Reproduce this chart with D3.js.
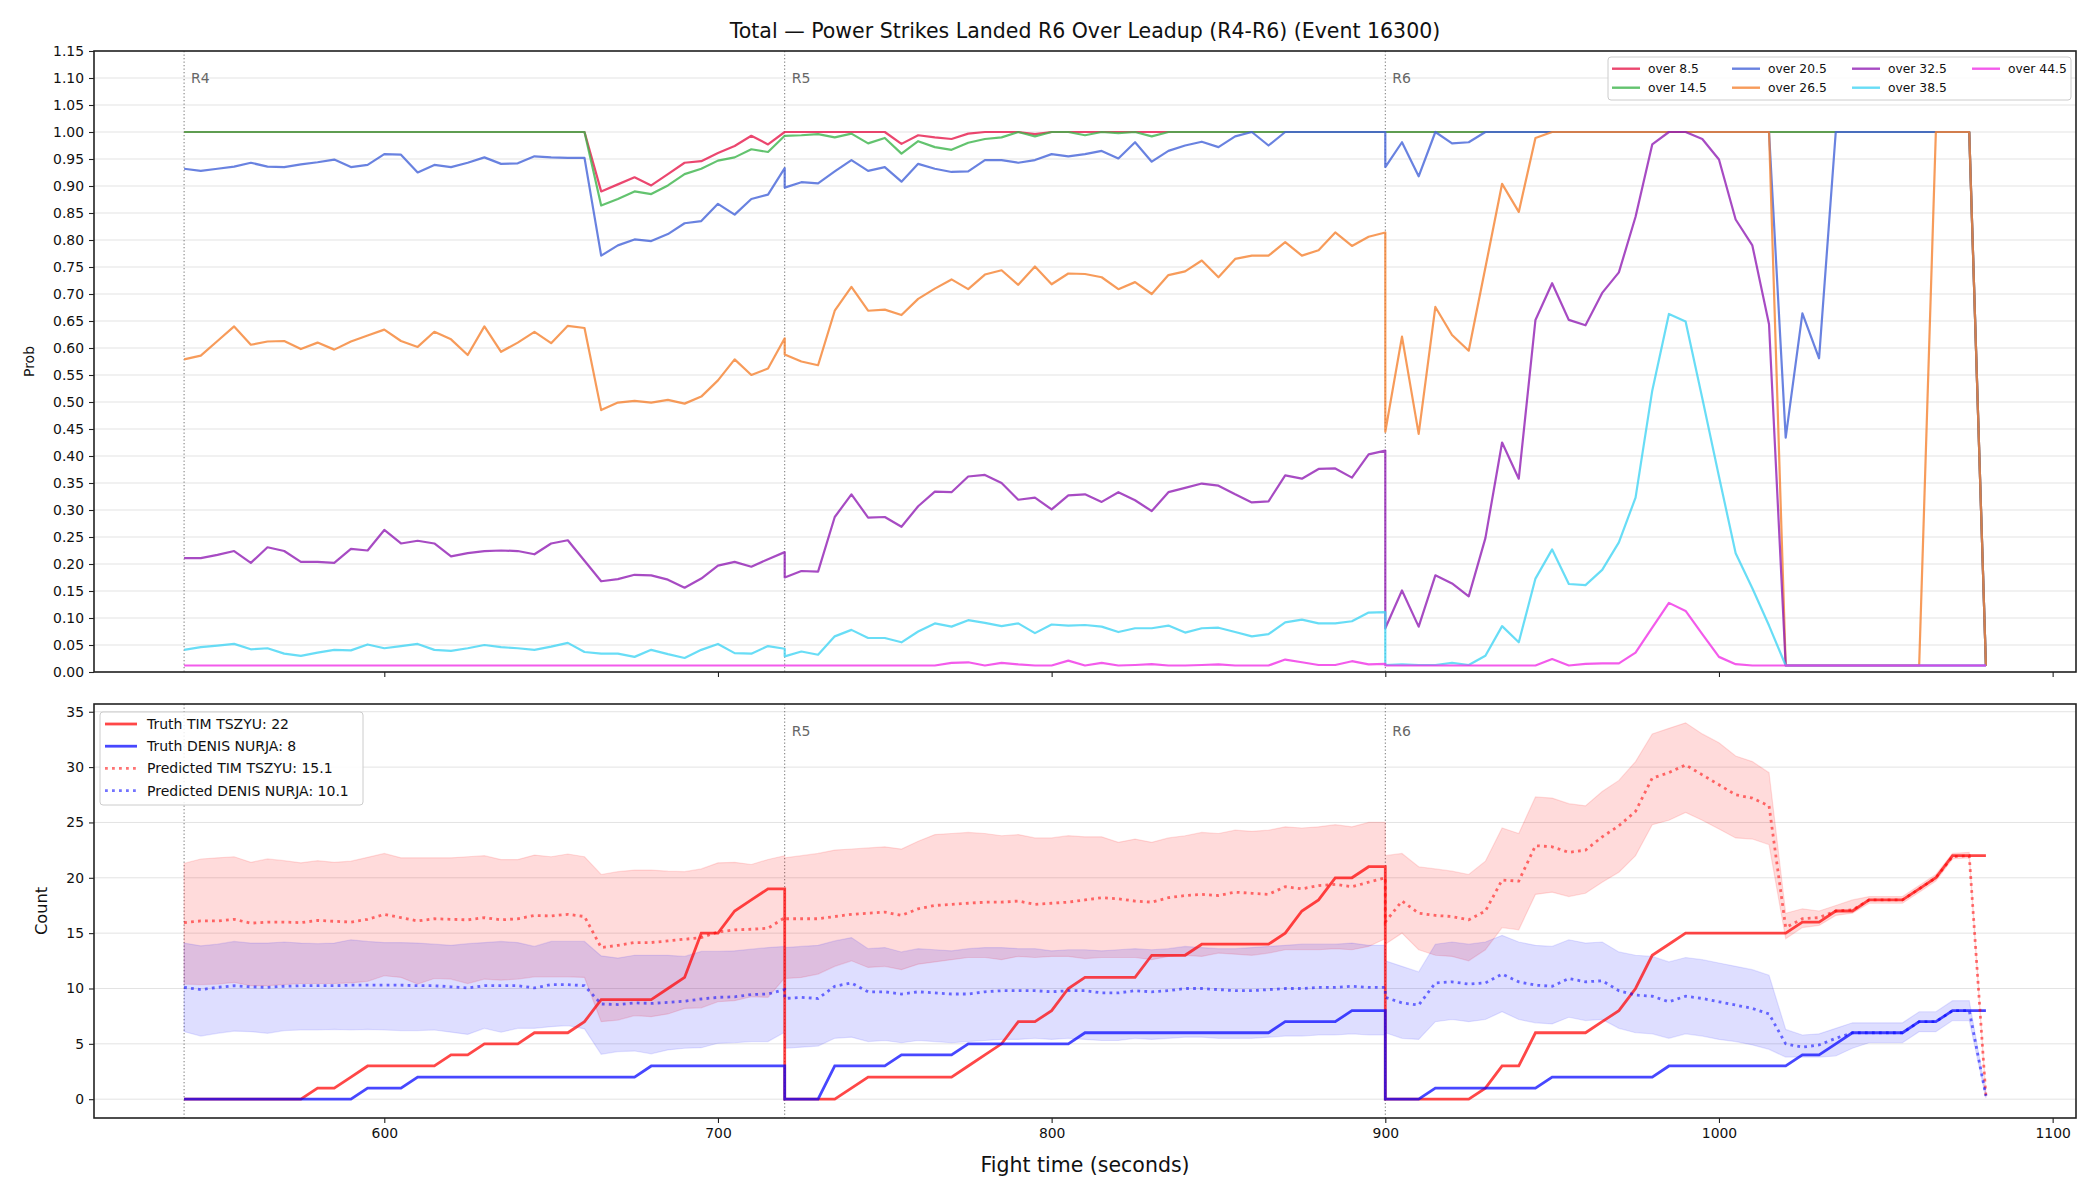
<!DOCTYPE html>
<html>
<head>
<meta charset="utf-8">
<script src="https://cdnjs.cloudflare.com/ajax/libs/d3/7.8.5/d3.min.js"></script>
<style>
body { margin: 0; background: #fff; }
svg text { font-family: "DejaVu Sans", sans-serif; fill: #111; }
</style>
</head>
<body>
<div id="chart"></div>
<script>
// rounds and sample grid (one sample every 5 s, each round has its own 37 samples)
const roundStarts = [540, 720, 900];
const roundNames = ["R4", "R5", "R6"];
const xTicks = [600, 700, 800, 900, 1000, 1100];
const probTicks = d3.range(0, 1.151, 0.05);
const countTicks = [0, 5, 10, 15, 20, 25, 30, 35];

// ---- top panel: P(over line) ----
const probKeys = ["over 8.5", "over 14.5", "over 20.5", "over 26.5", "over 32.5", "over 38.5", "over 44.5"];
const probColors = ["#e6194b", "#3cb44b", "#4363d8", "#f58231", "#911eb4", "#42d4f4", "#f032e6"];

const over85 = [
  // R4
  1,1,1,1,1,1,1,1,1,1,
  1,1,1,1,1,1,1,1,1,1,
  1,1,1,1,1,0.890,0.903,0.916,0.901,0.922,
  0.943,0.946,0.961,0.974,0.993,0.977,1,
  // R5
  1,1,1,1,1,1,1,0.978,0.994,0.990,
  0.987,0.997,1,1,1,0.996,1,1,1,1,
  1,1,1,1,1,1,1,1,1,1,
  1,1,1,1,1,1,1,
  // R6
  1,1,1,1,1,1,1,1,1,1,
  1,1,1,1,1,1,1,1,1,1,
  1,1,1,1,1,1,1,1,1,1,
  1,1,1,1,1,1,0.012];
const over145 = [
  1,1,1,1,1,1,1,1,1,1,
  1,1,1,1,1,1,1,1,1,1,
  1,1,1,1,1,0.864,0.876,0.890,0.885,0.901,
  0.922,0.932,0.947,0.953,0.968,0.963,0.993,
  0.993,0.994,0.996,0.990,0.997,0.979,0.989,0.960,0.983,0.972,
  0.967,0.980,0.987,0.990,1,0.992,1,1,0.994,1,
  0.998,1,0.992,1,1,1,1,1,1,1,
  1,1,1,1,1,1,1,
  1,1,1,1,1,1,1,1,1,1,
  1,1,1,1,1,1,1,1,1,1,
  1,1,1,1,1,1,1,1,1,1,
  1,1,1,1,1,1,0.012];
const over205 = [
  0.932,0.928,0.932,0.936,0.943,0.936,0.935,0.940,0.944,0.949,
  0.935,0.939,0.959,0.958,0.925,0.939,0.935,0.943,0.953,0.941,
  0.942,0.955,0.953,0.952,0.952,0.771,0.790,0.801,0.798,0.811,
  0.831,0.835,0.867,0.847,0.876,0.884,0.933,
  0.897,0.907,0.905,0.927,0.948,0.928,0.935,0.908,0.941,0.932,
  0.926,0.927,0.948,0.948,0.943,0.948,0.959,0.955,0.959,0.965,
  0.951,0.981,0.945,0.965,0.975,0.982,0.972,0.992,1,0.975,
  1,1,1,1,1,1,1,
  0.935,0.981,0.918,1,0.979,0.981,1,1,1,1,
  1,1,1,1,1,1,1,1,1,1,
  1,1,1,1,0.434,0.664,0.581,1,1,1,
  1,1,1,1,1,1,0.012];
const over265 = [
  0.579,0.586,0.613,0.640,0.606,0.612,0.613,0.598,0.610,0.597,
  0.612,0.623,0.634,0.613,0.602,0.630,0.616,0.587,0.640,0.593,
  0.610,0.630,0.609,0.641,0.637,0.485,0.499,0.502,0.499,0.504,
  0.497,0.510,0.540,0.579,0.550,0.562,0.618,
  0.588,0.575,0.568,0.669,0.713,0.669,0.671,0.661,0.691,0.710,
  0.727,0.709,0.736,0.744,0.717,0.751,0.718,0.738,0.737,0.731,
  0.709,0.722,0.700,0.735,0.742,0.762,0.731,0.765,0.771,0.771,
  0.796,0.771,0.781,0.814,0.789,0.806,0.814,
  0.445,0.621,0.441,0.676,0.624,0.595,0.749,0.904,0.852,0.989,
  1,1,1,1,1,1,1,1,1,1,
  1,1,1,1,0.012,0.012,0.012,0.012,0.012,0.012,
  0.012,0.012,0.012,1,1,1,0.012];
const over325 = [
  0.211,0.211,0.217,0.224,0.202,0.231,0.224,0.204,0.204,0.202,
  0.228,0.225,0.263,0.238,0.243,0.238,0.214,0.220,0.224,0.225,
  0.224,0.218,0.238,0.244,0.206,0.168,0.172,0.180,0.179,0.171,
  0.156,0.173,0.197,0.204,0.195,0.209,0.222,
  0.175,0.187,0.186,0.287,0.329,0.286,0.287,0.269,0.307,0.334,
  0.333,0.362,0.365,0.350,0.319,0.323,0.301,0.327,0.329,0.315,
  0.333,0.318,0.298,0.333,0.341,0.349,0.345,0.329,0.314,0.316,
  0.364,0.358,0.376,0.377,0.360,0.403,0.410,
  0.081,0.151,0.084,0.179,0.164,0.140,0.248,0.425,0.358,0.652,
  0.720,0.652,0.642,0.702,0.740,0.843,0.977,1,1,0.987,
  0.949,0.838,0.790,0.644,0.012,0.012,0.012,0.012,0.012,0.012,
  0.012,0.012,0.012,0.012,0.012,0.012,0.012];
const over385 = [
  0.041,0.046,0.049,0.052,0.042,0.044,0.034,0.030,0.036,0.041,
  0.040,0.051,0.044,0.048,0.052,0.041,0.039,0.044,0.050,0.046,
  0.044,0.041,0.047,0.054,0.037,0.034,0.034,0.028,0.041,0.033,
  0.026,0.041,0.052,0.035,0.034,0.048,0.043,
  0.029,0.038,0.032,0.066,0.078,0.063,0.063,0.055,0.075,0.090,
  0.084,0.096,0.091,0.085,0.090,0.072,0.088,0.086,0.087,0.084,
  0.074,0.081,0.081,0.086,0.073,0.081,0.082,0.074,0.066,0.070,
  0.092,0.097,0.090,0.090,0.094,0.110,0.111,
  0.013,0.014,0.013,0.013,0.017,0.013,0.030,0.085,0.055,0.173,
  0.227,0.163,0.161,0.189,0.240,0.323,0.521,0.663,0.649,0.507,
  0.362,0.220,0.155,0.086,0.012,0.012,0.012,0.012,0.012,0.012,
  0.012,0.012,0.012,0.012,0.012,0.012,0.012];
const over445 = [
  0.012,0.012,0.012,0.012,0.012,0.012,0.012,0.012,0.012,0.012,
  0.012,0.012,0.012,0.012,0.012,0.012,0.012,0.012,0.012,0.012,
  0.012,0.012,0.012,0.012,0.012,0.012,0.012,0.012,0.012,0.012,
  0.012,0.012,0.012,0.012,0.012,0.012,0.012,
  0.012,0.012,0.012,0.012,0.012,0.012,0.012,0.012,0.012,0.012,
  0.017,0.018,0.012,0.017,0.014,0.012,0.012,0.021,0.012,0.017,
  0.012,0.013,0.0145,0.012,0.012,0.013,0.014,0.012,0.012,0.012,
  0.023,0.018,0.013,0.013,0.020,0.014,0.015,
  0.012,0.012,0.012,0.012,0.012,0.012,0.012,0.012,0.012,0.012,
  0.024,0.012,0.015,0.016,0.016,0.036,0.082,0.128,0.113,0.070,
  0.028,0.0145,0.012,0.012,0.012,0.012,0.012,0.012,0.012,0.012,
  0.012,0.012,0.012,0.012,0.012,0.012,0.012];
const probValues = [over85, over145, over205, over265, over325, over385, over445];

// ---- bottom panel: counts ----
const truthTim = [
  0,0,0,0,0,0,0,0,1,1, 2,3,3,3,3,3,4,4,5,5, 5,6,6,6,7,9,9,9,9,10, 11,15,15,17,18,19,19,
  0,0,0,0,1,2,2,2,2,2, 2,3,4,5,7,7,8,10,11,11, 11,11,13,13,13,14,14,14,14,14, 15,17,18,20,20,21,21,
  0,0,0,0,0,0,1,3,3,6, 6,6,6,7,8,10,13,14,15,15, 15,15,15,15,15,16,16,17,17,18, 18,18,19,20,22,22,22];
const truthDenis = [
  0,0,0,0,0,0,0,0,0,0, 0,1,1,1,2,2,2,2,2,2, 2,2,2,2,2,2,2,2,3,3, 3,3,3,3,3,3,3,
  0,0,0,3,3,3,3,4,4,4, 4,5,5,5,5,5,5,5,6,6, 6,6,6,6,6,6,6,6,6,6, 7,7,7,7,8,8,8,
  0,0,0,1,1,1,1,1,1,1, 2,2,2,2,2,2,2,3,3,3, 3,3,3,3,3,4,4,5,6,6, 6,6,7,7,8,8,8];
const predTim = [
  15.95,16.1,16.1,16.25,15.9,16.0,16.0,15.95,16.15,16.07, 16.0,16.25,16.7,16.4,16.1,16.3,16.25,16.2,16.4,16.2,
  16.3,16.6,16.55,16.7,16.5,13.7,13.9,14.15,14.15,14.3, 14.45,14.6,15.1,15.3,15.35,15.45,16.4,
  16.3,16.3,16.3,16.5,16.7,16.8,16.9,16.6,17.2,17.5, 17.6,17.7,17.8,17.8,17.9,17.6,17.7,17.8,18.0,18.2,
  18.1,17.9,17.8,18.2,18.4,18.5,18.4,18.7,18.6,18.5, 19.2,19.0,19.3,19.4,19.2,19.6,20.0,
  16.0,17.9,16.8,16.6,16.5,16.2,17.0,19.8,19.7,22.9, 22.8,22.3,22.5,23.7,24.7,26.0,29.0,29.5,30.2,29.3,
  28.4,27.5,27.2,26.5,15.5,16.3,16.4,17.0,17.1,18.0, 18.0,18.0,19.0,20.0,21.9,22.0,0.3];
const timHi = [
  21.3,21.7,21.8,21.9,21.4,21.7,21.55,21.35,21.55,21.4, 21.5,21.85,22.2,21.8,21.8,21.8,21.8,21.9,22.0,21.65,
  21.65,22.05,21.9,22.15,21.9,20.3,20.55,20.7,20.7,20.6, 20.55,20.8,21.35,21.4,21.2,21.65,22.0,
  21.8,22.0,22.2,22.5,22.6,22.7,22.8,22.6,23.3,23.9, 24.0,24.1,24.0,23.8,23.9,23.6,23.6,23.8,23.7,23.7,
  23.2,23.5,23.2,23.6,23.8,24.1,24.0,24.3,24.2,24.3, 24.6,24.5,24.6,24.8,24.6,25.0,25.0,
  22.0,22.2,21.0,20.8,20.6,20.3,21.5,24.5,24.0,27.3, 27.2,26.7,26.5,27.8,28.8,30.5,33.0,33.5,34.0,33.0,
  32.2,31.0,30.5,29.5,16.8,17.2,17.0,17.5,18.0,18.3, 18.3,18.3,19.3,20.3,22.2,22.3,0.5];
const timLo = [
  10.4,10.35,10.4,10.55,10.25,10.25,10.35,10.45,10.45,10.45, 10.5,10.65,11.15,11.0,10.4,10.9,10.85,10.45,10.85,10.75,
  10.85,11.05,11.05,11.05,11.0,7.0,7.15,7.55,7.45,7.7, 8.2,8.25,8.8,8.9,9.25,9.2,10.95,
  10.9,11.0,11.3,12.0,12.5,11.9,12.0,11.7,12.2,12.4, 12.6,12.8,12.8,12.6,12.9,12.8,12.9,12.9,12.7,12.8,
  12.8,12.8,12.6,12.9,13.0,12.9,13.2,13.1,13.0,13.2, 13.5,13.5,13.5,13.6,13.5,13.8,14.5,
  14.0,15.0,13.5,13.0,12.9,12.5,13.5,15.5,15.3,18.5, 18.7,18.3,18.6,19.6,20.5,22.0,24.8,25.2,25.9,25.2,
  24.4,23.6,23.5,23.0,14.5,15.5,15.7,16.6,16.8,17.7, 17.7,17.7,18.7,19.7,21.7,21.8,0.2];
const predDenis = [
  10.1,9.9,10.1,10.25,10.15,10.1,10.2,10.25,10.25,10.25, 10.3,10.3,10.3,10.3,10.25,10.25,10.15,10.05,10.25,10.25,
  10.25,10.05,10.35,10.35,10.25,8.6,8.55,8.7,8.65,8.75, 8.85,9.05,9.2,9.25,9.45,9.5,9.9,
  9.1,9.2,9.1,10.2,10.5,9.7,9.7,9.5,9.7,9.6, 9.5,9.5,9.7,9.8,9.8,9.8,9.7,9.8,9.8,9.6,
  9.6,9.8,9.7,9.8,10.0,10.0,9.9,9.8,9.8,9.9, 10.0,10.0,10.1,10.1,10.2,10.1,10.1,
  9.2,8.7,8.5,10.5,10.6,10.4,10.5,11.3,10.6,10.3, 10.2,10.9,10.6,10.7,9.8,9.4,9.3,8.8,9.3,9.1,
  8.8,8.5,8.2,7.7,5.0,4.7,4.9,5.5,6.0,6.0, 6.0,6.0,7.0,7.0,8.0,8.0,0.3];
const denisHi = [
  14.1,13.85,14.0,14.25,14.1,14.1,14.2,14.1,14.05,14.1, 14.4,14.25,14.15,14.15,14.1,14.0,13.9,14.05,14.15,14.25,
  14.15,13.8,14.25,14.25,14.25,12.95,12.75,13.0,13.0,13.0, 12.9,13.35,13.35,13.4,13.55,13.7,13.8,
  13.7,13.8,13.9,14.3,14.6,13.6,13.7,13.3,13.6,13.5, 13.4,13.6,13.7,13.7,13.6,13.6,13.4,13.5,13.5,13.4,
  13.5,13.6,13.5,13.6,13.8,13.7,13.6,13.6,13.7,13.8, 13.9,14.0,14.0,14.0,14.1,13.9,13.9,
  12.5,12.0,11.5,14.0,14.2,14.0,14.2,14.8,14.2,13.9, 13.8,14.4,14.1,14.2,13.3,13.0,12.9,12.4,12.8,12.6,
  12.3,12.0,11.7,11.2,6.3,5.8,5.9,6.4,6.9,6.9, 6.9,6.9,7.9,7.9,8.9,8.9,0.5];
const denisLo = [
  6.1,5.7,5.95,6.15,6.1,5.95,6.2,6.25,6.25,6.3, 6.25,6.3,6.25,6.2,6.2,6.25,6.05,5.85,6.4,6.05,
  6.4,6.4,6.55,6.65,6.35,4.05,4.3,4.35,4.1,4.45, 4.6,4.65,5.05,5.1,5.2,5.2,6.05,
  4.6,4.7,4.8,5.5,5.6,5.2,5.3,5.1,5.3,5.2, 5.1,5.2,5.3,5.4,5.4,5.5,5.4,5.5,5.4,5.3,
  5.3,5.5,5.4,5.5,5.6,5.6,5.5,5.5,5.5,5.6, 5.7,5.7,5.8,5.8,5.9,5.8,5.8,
  6.0,5.5,5.4,7.0,7.2,7.0,7.2,7.9,7.2,6.9, 6.8,7.4,7.1,7.2,6.4,6.0,5.9,5.5,5.9,5.7,
  5.4,5.2,4.9,4.5,3.8,3.8,3.8,3.9,4.6,5.1, 5.1,5.1,6.1,6.1,7.1,7.1,0.1];

const times = roundStarts.flatMap(function(s) { return d3.range(s, s + 181, 5); });

// layout
const W = 2100, H = 1200;
const left = 94, right = 2076;
const top1 = 51, bot1 = 672;
const top2 = 704, bot2 = 1118;

const svg = d3.select("#chart").append("svg")
  .attr("width", W).attr("height", H);

const x = d3.scaleLinear().domain([513, 1107]).range([left, right]);
const yP = d3.scaleLinear().domain([0, 1.15]).range([bot1, top1]);
const yC = d3.scaleLinear().domain([-1.7, 35.7]).range([bot2, top2]);

// title
svg.append("text")
  .attr("x", (left + right) / 2).attr("y", 38)
  .attr("text-anchor", "middle")
  .attr("font-size", 20.5)
  .text("Total \u2014 Power Strikes Landed R6 Over Leadup (R4-R6) (Event 16300)");

function gridAndRounds(g, y, ticks, yTop, yBot, labelRounds) {
  g.selectAll(".grid").data(ticks).enter().append("line")
    .attr("x1", left).attr("x2", right)
    .attr("y1", function(d) { return y(d); }).attr("y2", function(d) { return y(d); })
    .attr("stroke", "#e3e3e3").attr("stroke-width", 1);
  g.selectAll(".rnd").data(roundStarts).enter().append("line")
    .attr("x1", function(d) { return x(d); }).attr("x2", function(d) { return x(d); })
    .attr("y1", yTop).attr("y2", yBot)
    .attr("stroke", "#777").attr("stroke-width", 1)
    .attr("stroke-dasharray", "1.3,2.2");
  // round labels (R4 in the lower panel sits under the legend, so it is left out)
  g.selectAll(".rlab").data(labelRounds).enter().append("text")
    .attr("x", function(d) { return x(roundStarts[d]) + 7; })
    .attr("y", yTop + 32)
    .attr("font-size", 14)
    .style("fill", "#666")
    .text(function(d) { return roundNames[d]; });
}

// ---------- top panel ----------
const g1 = svg.append("g");
gridAndRounds(g1, yP, probTicks, top1, bot1, [0, 1, 2]);

probValues.forEach(function(vals, si) {
  const line = d3.line()
    .x(function(d, i) { return x(times[i]); })
    .y(function(d) { return yP(d); });
  g1.append("path")
    .datum(vals)
    .attr("fill", "none")
    .attr("stroke", probColors[si])
    .attr("stroke-opacity", 0.8)
    .attr("stroke-width", 2.2)
    .attr("stroke-linejoin", "round")
    .attr("d", line);
});

g1.append("g")
  .attr("transform", "translate(" + left + ",0)")
  .call(d3.axisLeft(yP).tickValues(probTicks).tickFormat(d3.format(".2f")).tickSize(5).tickPadding(5))
  .call(styleAxis);
g1.append("g")
  .attr("transform", "translate(0," + bot1 + ")")
  .call(d3.axisBottom(x).tickValues(xTicks).tickFormat("").tickSize(5))
  .call(styleAxis);

g1.append("rect")
  .attr("x", left).attr("y", top1).attr("width", right - left).attr("height", bot1 - top1)
  .attr("fill", "none").attr("stroke", "#222").attr("stroke-width", 1.6);

g1.append("text")
  .attr("transform", "translate(29," + ((top1 + bot1) / 2) + ") rotate(-90)")
  .attr("text-anchor", "middle").attr("dy", "0.35em")
  .attr("font-size", 14)
  .text("Prob");

// top legend
const leg1 = g1.append("g").attr("transform", "translate(1608,57)");
leg1.append("rect")
  .attr("width", 463).attr("height", 43).attr("rx", 3)
  .attr("fill", "white").attr("fill-opacity", 0.85)
  .attr("stroke", "#ccc");
probKeys.forEach(function(k, i) {
  const col = Math.floor(i / 2), row = i % 2;
  const gx = 4 + col * 120, gy = 11.7 + row * 19;
  leg1.append("line")
    .attr("x1", gx).attr("x2", gx + 28).attr("y1", gy).attr("y2", gy)
    .attr("stroke", probColors[i]).attr("stroke-opacity", 0.8).attr("stroke-width", 2.4);
  leg1.append("text")
    .attr("x", gx + 36).attr("y", gy).attr("dy", "0.35em")
    .attr("font-size", 12.3)
    .text(k);
});

// ---------- bottom panel ----------
const g2 = svg.append("g");
gridAndRounds(g2, yC, countTicks, top2, bot2, [1, 2]);

const bandTim = d3.area()
  .x(function(d, i) { return x(times[i]); })
  .y0(function(d, i) { return yC(timLo[i]); })
  .y1(function(d, i) { return yC(timHi[i]); });
const bandDenis = d3.area()
  .x(function(d, i) { return x(times[i]); })
  .y0(function(d, i) { return yC(denisLo[i]); })
  .y1(function(d, i) { return yC(denisHi[i]); });

g2.append("path").datum(times)
  .attr("fill", "rgba(255,0,0,0.14)")
  .attr("stroke", "rgba(255,0,0,0.12)").attr("stroke-width", 1.2)
  .attr("d", bandTim);
g2.append("path").datum(times)
  .attr("fill", "rgba(0,0,255,0.13)")
  .attr("stroke", "rgba(0,0,255,0.10)").attr("stroke-width", 1.2)
  .attr("d", bandDenis);

const countLine = d3.line()
  .x(function(d, i) { return x(times[i]); })
  .y(function(d) { return yC(d); });

g2.append("path").datum(truthTim)
  .attr("fill", "none").attr("stroke", "red").attr("stroke-opacity", 0.72)
  .attr("stroke-width", 2.8).attr("d", countLine);
g2.append("path").datum(truthDenis)
  .attr("fill", "none").attr("stroke", "blue").attr("stroke-opacity", 0.72)
  .attr("stroke-width", 2.8).attr("d", countLine);
g2.append("path").datum(predTim)
  .attr("fill", "none").attr("stroke", "red").attr("stroke-opacity", 0.55)
  .attr("stroke-width", 2.8).attr("stroke-dasharray", "2.8,4.2").attr("d", countLine);
g2.append("path").datum(predDenis)
  .attr("fill", "none").attr("stroke", "blue").attr("stroke-opacity", 0.55)
  .attr("stroke-width", 2.8).attr("stroke-dasharray", "2.8,4.2").attr("d", countLine);

g2.append("g")
  .attr("transform", "translate(" + left + ",0)")
  .call(d3.axisLeft(yC).tickValues(countTicks).tickSize(5).tickPadding(5))
  .call(styleAxis);
g2.append("g")
  .attr("transform", "translate(0," + bot2 + ")")
  .call(d3.axisBottom(x).tickValues(xTicks).tickFormat(d3.format("d")).tickSize(5).tickPadding(5))
  .call(styleAxis);

g2.append("rect")
  .attr("x", left).attr("y", top2).attr("width", right - left).attr("height", bot2 - top2)
  .attr("fill", "none").attr("stroke", "#222").attr("stroke-width", 1.6);

g2.append("text")
  .attr("transform", "translate(41," + ((top2 + bot2) / 2) + ") rotate(-90)")
  .attr("text-anchor", "middle").attr("dy", "0.35em")
  .attr("font-size", 16.2)
  .text("Count");

svg.append("text")
  .attr("x", (left + right) / 2).attr("y", 1172)
  .attr("text-anchor", "middle")
  .attr("font-size", 20.5)
  .text("Fight time (seconds)");

// bottom legend
const legendItems = [
  {label: "Truth TIM TSZYU: 22", color: "red", dash: null, op: 0.72},
  {label: "Truth DENIS NURJA: 8", color: "blue", dash: null, op: 0.72},
  {label: "Predicted TIM TSZYU: 15.1", color: "red", dash: "2.8,4.2", op: 0.55},
  {label: "Predicted DENIS NURJA: 10.1", color: "blue", dash: "2.8,4.2", op: 0.55}
];
const leg2 = g2.append("g").attr("transform", "translate(100,712)");
leg2.append("rect")
  .attr("width", 263).attr("height", 93).attr("rx", 3)
  .attr("fill", "white").attr("fill-opacity", 0.85)
  .attr("stroke", "#ccc");
legendItems.forEach(function(d, i) {
  const gy = 12 + i * 22.2;
  leg2.append("line")
    .attr("x1", 5).attr("x2", 37).attr("y1", gy).attr("y2", gy)
    .attr("stroke", d.color).attr("stroke-opacity", d.op).attr("stroke-width", 2.8)
    .attr("stroke-dasharray", d.dash);
  leg2.append("text")
    .attr("x", 47).attr("y", gy).attr("dy", "0.35em")
    .attr("font-size", 14)
    .text(d.label);
});

function styleAxis(g) {
  g.select(".domain").remove();
  g.selectAll(".tick line").attr("stroke", "#222").attr("stroke-width", 1.1);
  g.selectAll(".tick text").attr("font-size", 13.9).style("fill", "#111")
    .attr("font-family", "DejaVu Sans, sans-serif");
}
</script>
</body>
</html>
